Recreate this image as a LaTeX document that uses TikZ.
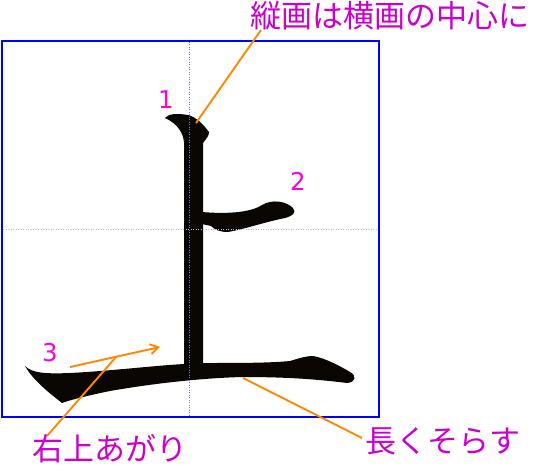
\documentclass[tikz,border=0pt]{standalone}
\usepackage{fontspec}
\newfontfamily\jp{Noto Sans CJK JP}
\newfontfamily\numfont{DejaVu Sans}
\usetikzlibrary{arrows.meta}
\definecolor{ink}{RGB}{10,6,2}
\definecolor{frameblue}{RGB}{0,0,255}
\definecolor{guideblue}{RGB}{110,110,255}
\definecolor{guidegray}{RGB}{185,185,225}
\definecolor{labelmag}{RGB}{204,0,204}
\definecolor{nummag}{RGB}{255,0,220}
\definecolor{lineorange}{RGB}{255,136,0}
\tikzset{
  brush/.style={fill=ink, draw=none},
  guide/.style={line width=0.8pt, dash pattern=on 1pt off 1.5pt},
  pointer/.style={draw=lineorange, line width=1.9pt},
  jplabel/.style={text=labelmag, font=\jp\fontsize{31}{32}\selectfont, inner sep=0pt},
  numlabel/.style={text=nummag, font=\numfont\fontsize{24.5}{26}\selectfont, inner sep=0pt}
}
\begin{document}
\begin{tikzpicture}[x=1pt,y=-1pt]
\useasboundingbox (0,0) rectangle (537,465);
\fill[white] (0,0) rectangle (537,465);
% frame
\draw[frameblue, line width=2pt] (2,41) rectangle (379,417);
% stroke 1 (vertical)
\fill[brush] (165,118) .. controls (168,114) and (176,113) .. (188,115)
  .. controls (196,117) and (203,124) .. (209,132)
  .. controls (209,136) and (206,139) .. (203,143)
  -- (203,370) -- (184,370) -- (184,142)
  .. controls (183,133) and (178,124) .. (165,118) -- cycle;
% stroke 2
\fill[brush] (202,212) .. controls (225,214) and (250,213) .. (262,205)
  .. controls (272,199) and (286,201) .. (293,208)
  .. controls (297,213) and (292,216) .. (285,218)
  .. controls (265,222) and (245,229) .. (228,232)
  .. controls (220,232) and (215,230) .. (211,226) -- (202,224) -- cycle;
% stroke 3
\fill[brush] (25,366) .. controls (32,373) and (45,374) .. (70,373)
  .. controls (110,371) and (150,366) .. (184,364) -- (203,363)
  .. controls (240,363) and (270,363) .. (290,361)
  .. controls (300,358) and (306,356) .. (313,356)
  .. controls (325,358) and (340,366) .. (350,372)
  .. controls (357,376) and (356,382) .. (347,383)
  .. controls (330,381) and (300,377) .. (243,377)
  .. controls (200,378) and (150,384) .. (110,391)
  .. controls (90,395) and (70,400) .. (62,403)
  .. controls (48,392) and (33,380) .. (25,366) -- cycle;
% guides
\draw[guide, guideblue] (189,42) -- (189,416);
\draw[guide, guidegray] (3,229) -- (378,229);
% labels
\node[jplabel] (tcenter) at (390,16) {縦画は横画の中心に};
\node[jplabel] (trise) at (110,449) {右上あがり};
\node[jplabel] (tlong) at (443,441) {長くそらす};
\node[numlabel] (n1) at (166,100) {1};
\node[numlabel] (n2) at (298,181) {2};
\node[numlabel] (n3) at (50,353) {3};
% pointer endpoints
\coordinate (p1a) at (196,123);
\coordinate (p1b) at (261,30);
\coordinate (arA) at (70,367);
\coordinate (arB) at (160,347);
\coordinate (p3a) at (116,357);
\coordinate (p3b) at (47,436);
\coordinate (p4a) at (243,378);
\coordinate (p4b) at (362,438);
\draw[pointer] (p1a) -- (p1b);
\draw[pointer, -{Straight Barb[length=8pt,width=10pt]}] (arA) -- (arB);
\draw[pointer] (p3a) -- (p3b);
\draw[pointer] (p4a) -- (p4b);
\end{tikzpicture}
\end{document}
